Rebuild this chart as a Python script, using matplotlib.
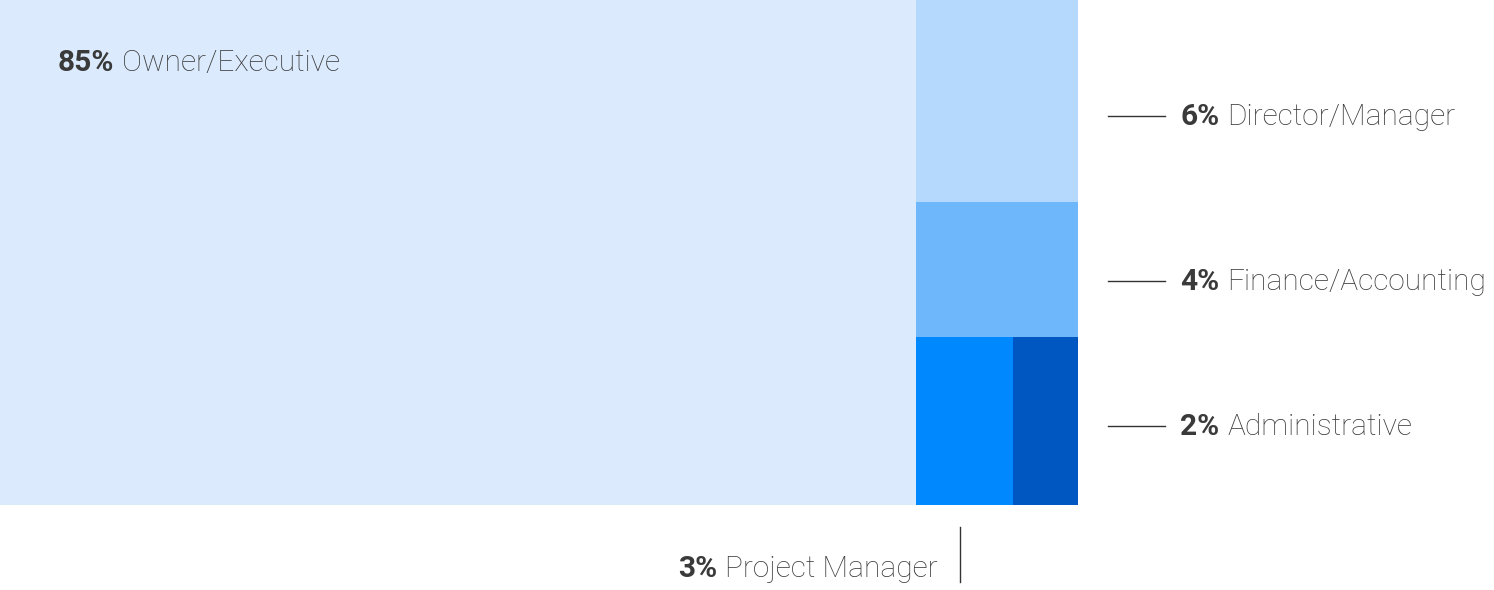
"""Treemap of respondent roles: share of each job title."""

import matplotlib.pyplot as plt
from matplotlib.patches import Rectangle

plt.rcParams["font.family"] = ["Roboto", "DejaVu Sans"]

ROLES = ["Owner/Executive", "Director/Manager", "Finance/Accounting",
         "Project Manager", "Administrative"]
SHARES = [85, 6, 4, 3, 2]
COLORS = ["#DBEBFD", "#B5D9FC", "#6DB7FA", "#0088FF", "#0057C1"]

TEXT_COLOR = "#3A3A3A"
W, H = 1494, 590
MAP_W, MAP_H = 1078, 505
FONT_SIZE = 21.5


def layout(shares):
    """Slice layout: big block left, column of the rest, last two side by side."""
    total = sum(shares)
    rects = []
    big_w = MAP_W * shares[0] / total
    rects.append((0, 0, big_w, MAP_H))
    rest = total - shares[0]
    col_w = MAP_W - big_w
    y = 0
    for share in shares[1:3]:
        h = MAP_H * share / rest
        rects.append((big_w, y, col_w, h))
        y += h
    pair = shares[3] + shares[4]
    x = big_w
    for share in shares[3:]:
        w = col_w * share / pair
        rects.append((x, y, w, MAP_H - y))
        x += w
    return rects


def label(ax, renderer, x, y, pct, name, ha="left"):
    """Bold percentage followed by a light role name."""
    kw = dict(fontsize=FONT_SIZE, color=TEXT_COLOR, va="center")
    inv = ax.transData.inverted()
    if ha == "left":
        t = ax.text(x, y, f"{pct}%", fontweight="bold", ha="left", **kw)
        bb = t.get_window_extent(renderer)
        x1 = inv.transform((bb.x1, bb.y0))[0]
        ax.text(x1 + 8, y, name, fontweight="light", ha="left", **kw)
    else:
        t = ax.text(x, y, name, fontweight="light", ha="right", **kw)
        bb = t.get_window_extent(renderer)
        x0 = inv.transform((bb.x0, bb.y0))[0]
        ax.text(x0 - 8, y, f"{pct}%", fontweight="bold", ha="right", **kw)


fig = plt.figure(figsize=(W / 100, H / 100), dpi=100)
ax = fig.add_axes([0, 0, 1, 1])
ax.set_xlim(0, W)
ax.set_ylim(H, 0)
ax.axis("off")
renderer = fig.canvas.get_renderer()

rects = layout(SHARES)
for (x, y, w, h), color in zip(rects, COLORS):
    ax.add_patch(Rectangle((x, y), w, h, facecolor=color, edgecolor="none"))

# Big block labelled inside.
label(ax, renderer, 58, 63, SHARES[0], ROLES[0])

# Column blocks labelled to the right with a leader line.
for i, cy in ((1, 116), (2, 281), (4, 426)):
    ax.plot([1108, 1165], [cy, cy], color="#333333", linewidth=1)
    label(ax, renderer, 1180, cy + 1, SHARES[i], ROLES[i])

# Project Manager labelled below.
ax.plot([960, 960], [527, 582], color="#333333", linewidth=1)
label(ax, renderer, 938, 569, SHARES[3], ROLES[3], ha="right")

fig.savefig("out.png", dpi=100)
